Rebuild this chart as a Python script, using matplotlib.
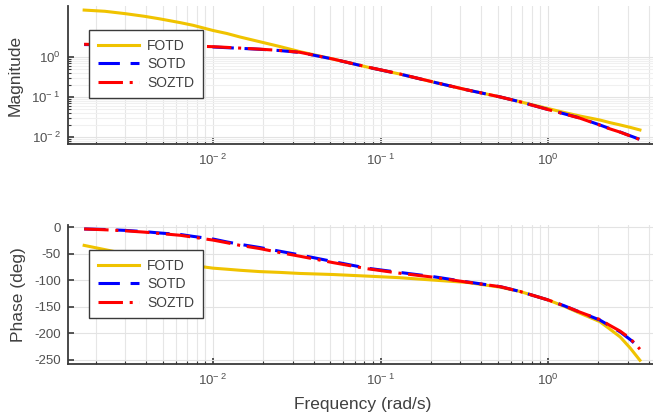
import numpy as np
import matplotlib
matplotlib.use("Agg")
import matplotlib.pyplot as plt
from matplotlib.ticker import FixedLocator, LogLocator, NullFormatter, FuncFormatter

plt.rcParams['font.family'] = ['Liberation Sans', 'DejaVu Sans']
plt.rcParams['mathtext.fontset'] = 'custom'
plt.rcParams['mathtext.rm'] = 'Liberation Sans'
plt.rcParams['mathtext.it'] = 'Liberation Sans:italic'
plt.rcParams['mathtext.default'] = 'regular'
plt.rcParams['axes.unicode_minus'] = False

# frequency points (rad/s)
freq = [0.0017, 0.00226, 0.003, 0.0039, 0.0048, 0.0064, 0.0076, 0.01, 0.0121, 0.0145,
        0.019, 0.025, 0.033, 0.052, 0.083, 0.13, 0.206, 0.33, 0.52, 0.68,
        1.0, 1.25, 1.55, 2.04, 2.34, 2.7, 3.1, 3.54]

# magnitude
mag_fotd = [14.9, 13.9, 12.1, 10.4, 9.0, 7.2, 6.2, 4.6, 3.87, 3.16,
            2.41, 1.83, 1.36, 0.89, 0.562, 0.376, 0.237, 0.150, 0.100, 0.076,
            0.0516, 0.041, 0.0335, 0.0266, 0.0229, 0.020, 0.0174, 0.015]
mag_sotd = [2.05, 2.0, 1.96, 1.93, 1.91, 1.88, 1.85, 1.78, 1.71, 1.65,
            1.56, 1.45, 1.30, 0.89, 0.562, 0.376, 0.237, 0.150, 0.100, 0.076,
            0.0487, 0.038, 0.0299, 0.020, 0.0162, 0.0133, 0.0107, 0.0087]
mag_soztd = [2.08, 2.03, 1.99, 1.96, 1.94, 1.91, 1.88, 1.81, 1.74, 1.67,
             1.57, 1.46, 1.31, 0.89, 0.565, 0.378, 0.238, 0.150, 0.100, 0.076,
             0.0485, 0.0378, 0.0296, 0.0198, 0.016, 0.0132, 0.0106, 0.0086]

# phase (deg)
phase_fotd = [-34, -42, -50, -57, -62, -68, -72, -77, -79, -81,
              -83.5, -85, -87, -89, -92, -95, -99.5, -104, -113, -121,
              -137, -149, -162, -178, -192, -207, -228, -251]
phase_sotd = [-3, -4, -5.7, -8, -10.6, -13.5, -17, -22, -27.5, -32,
              -38, -45, -52, -64.5, -77, -85, -93, -103, -112, -121,
              -137, -148, -160, -175, -186, -197.5, -212, -228]
phase_soztd = [-3, -4.5, -6.5, -9, -11.5, -15, -18.5, -24, -29, -34,
               -40, -47.5, -54.5, -66.5, -78, -86.5, -94, -103.5, -112, -121,
               -137, -148, -160, -174, -185, -196, -210, -230]

labels = ['FOTD', 'SOTD', 'SOZTD']
colors = ['#f0c300', '#0000ff', '#ff0000']

W, H = 653, 418
fig = plt.figure(figsize=(W / 100, H / 100), dpi=100)

def px_axes(left, top, right, bottom):
    return fig.add_axes([left / W, 1 - bottom / H, (right - left) / W, (bottom - top) / H])

ax1 = px_axes(68, 6, 657, 144)
ax2 = px_axes(68, 225, 657, 364)

def exp_fmt(v, pos):
    e = int(round(np.log10(v)))
    if e < 0:
        return r'$10^{-\ %d}$' % (-e)
    return r'$10^{%d}$' % e

def draw(ax, ys):
    lw = 2.2
    ax.plot(freq, ys[0], color=colors[0], lw=lw, label=labels[0])
    ax.plot(freq, ys[1], color=colors[1], lw=lw, dashes=(7, 3.5), label=labels[1])
    ax.plot(freq, ys[2], color=colors[2], lw=lw, dashes=(8, 2.2, 1.0, 2.2), label=labels[2])
    ax.set_xscale('log')
    ax.set_xlim(10 ** -2.866, 10 ** 0.651)
    ax.xaxis.set_major_locator(FixedLocator([0.01, 0.1, 1.0]))
    ax.xaxis.set_major_formatter(FuncFormatter(exp_fmt))
    ax.xaxis.set_minor_locator(LogLocator(base=10, subs=np.arange(2, 10), numticks=20))
    ax.xaxis.set_minor_formatter(NullFormatter())
    for s in ['top', 'right']:
        ax.spines[s].set_visible(False)
    for s in ['left', 'bottom']:
        ax.spines[s].set_color('#3a3a3a')
        ax.spines[s].set_linewidth(1.3)
    ax.tick_params(which='both', direction='in', colors='#3a3a3a', labelcolor='#505050', labelsize=9.5)
    ax.tick_params(which='major', length=4, width=1.2)
    ax.tick_params(which='minor', length=2.5, width=0.8)
    ax.tick_params(axis='x', pad=6)
    ax.tick_params(axis='y', pad=5)
    ax.grid(True, which='major', color='#e3e3e3', lw=0.8)
    ax.grid(True, which='minor', axis='x', color='#e6e6e6', lw=0.8)
    leg = ax.legend(loc='upper left', frameon=True, fancybox=False, framealpha=1,
                    edgecolor='#3a3a3a', fontsize=10, handlelength=3.0,
                    labelspacing=0.33, borderpad=0.62, handletextpad=0.55,
                    borderaxespad=0)
    leg.get_frame().set_linewidth(1.0)
    for t in leg.get_texts():
        t.set_color('#404040')
    return leg

leg1 = draw(ax1, [mag_fotd, mag_sotd, mag_soztd])
ax1.set_yscale('log')
ax1.set_ylim(10 ** -2.175, 10 ** 1.275)
ax1.yaxis.set_major_locator(FixedLocator([0.01, 0.1, 1.0]))
ax1.yaxis.set_major_formatter(FuncFormatter(exp_fmt))
ax1.yaxis.set_minor_locator(FixedLocator([k * 10.0 ** e for e in (-3, -2, -1) for k in range(2, 10)]))
ax1.yaxis.set_minor_formatter(NullFormatter())
ax1.grid(True, which='minor', axis='y', color='#f0f0f0', lw=0.8)
ax1.set_ylabel('Magnitude', fontsize=12.5, color='#404040', labelpad=6)
leg1.set_bbox_to_anchor((21 / 589, 1 - 24 / 138), transform=ax1.transAxes)

leg2 = draw(ax2, [phase_fotd, phase_sotd, phase_soztd])
ax2.set_ylim(-258, 4.5)
ax2.set_yticks([0, -50, -100, -150, -200, -250])
ax2.set_ylabel('Phase (deg)', fontsize=12.5, color='#404040', labelpad=6)
ax2.set_xlabel('Frequency (rad/s)', fontsize=12.5, color='#404040', labelpad=7)
leg2.set_bbox_to_anchor((21 / 589, 1 - 25 / 139), transform=ax2.transAxes)

fig.savefig('out.png', dpi=100)
